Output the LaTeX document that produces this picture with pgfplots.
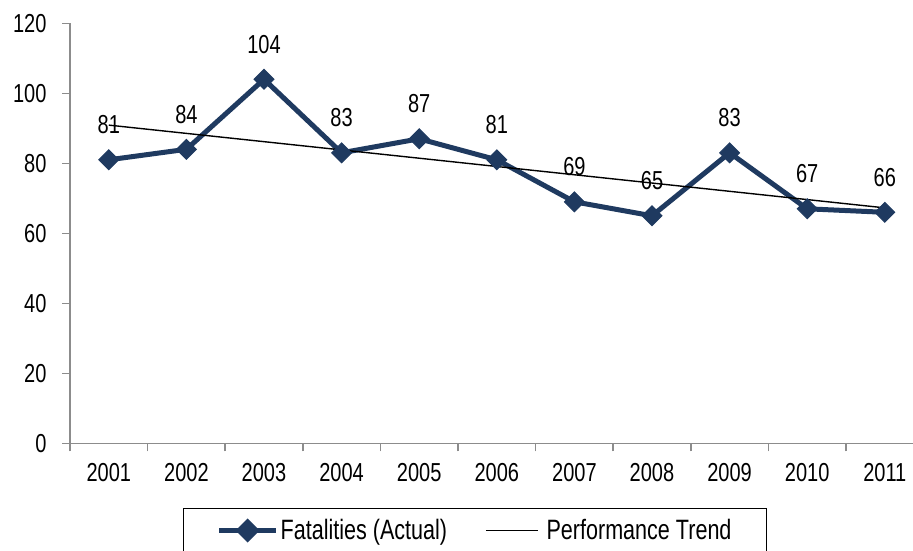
\documentclass[border=0pt]{standalone}
\usepackage{pgfplots}
\pgfplotsset{compat=1.18}
\usepackage{fontspec}
\setmainfont[FakeStretch=0.77]{Liberation Sans}
\definecolor{navy}{HTML}{1F3A60}
\definecolor{axgray}{HTML}{8C8C8C}
\begin{document}
\begin{tikzpicture}
\clip (-70pt,-106.7pt) rectangle (843pt,443.3pt);
\begin{axis}[
  at={(0,0)}, anchor=south west,
  scale only axis, width=853.6pt, height=420pt,
  xmin=0.5, xmax=11.5, ymin=0, ymax=120,
  axis x line*=bottom, axis y line*=left,
  axis line style={axgray, line width=1.5pt},
  every tick/.style={axgray, line width=1.5pt},
  tick align=outside,
  xtick={1,...,11},
  xticklabels={2001,2002,2003,2004,2005,2006,2007,2008,2009,2010,2011},
  major x tick style={draw=none},
  minor xtick={0.5,1.5,...,11.5},
  minor tick length=8pt,
  ytick={0,20,...,120},
  major tick length=8pt,
  tick label style={font=\fontsize{26}{26}\selectfont, black},
  /pgf/number format/assume math mode=true,
  xticklabel style={yshift=-9pt},
  yticklabel style={xshift=-12pt},
  legend columns=2,
  legend style={at={(0.1324,-0.154)}, anchor=north west, draw=black, line width=1.2pt,
    font=\fontsize{28}{28}\selectfont, inner xsep=33pt, inner ysep=9pt,
    /tikz/every even column/.append style={column sep=36pt}},
  legend cell align=left,
  clip=false,
]
\addplot[navy, line width=5pt, mark=square*, mark size=7pt,
  mark options={line width=1pt, fill=navy, rotate=45},
  nodes near coords, every node near coord/.append style={black, yshift=22pt, font=\fontsize{26}{26}\selectfont},
  legend image code/.code={\draw[navy, line width=5pt] (0pt,0pt) -- (57pt,0pt); \draw[navy, fill=navy] plot[mark=square*, mark size=6pt, mark options={rotate=45}] coordinates {(28.5pt,0pt)};}]
  coordinates {(1,81) (2,84) (3,104) (4,83) (5,87) (6,81) (7,69) (8,65) (9,83) (10,67) (11,66)};
\addlegendentry{Fatalities (Actual)}
\addplot[black, line width=1.4pt,
  legend image code/.code={\draw[black, line width=1.4pt] (0pt,0pt) -- (52pt,0pt); \path (58pt,0pt);}]
  coordinates {(1,90.91) (11,67.27)};
\addlegendentry{Performance Trend}
\end{axis}
\end{tikzpicture}
\end{document}
